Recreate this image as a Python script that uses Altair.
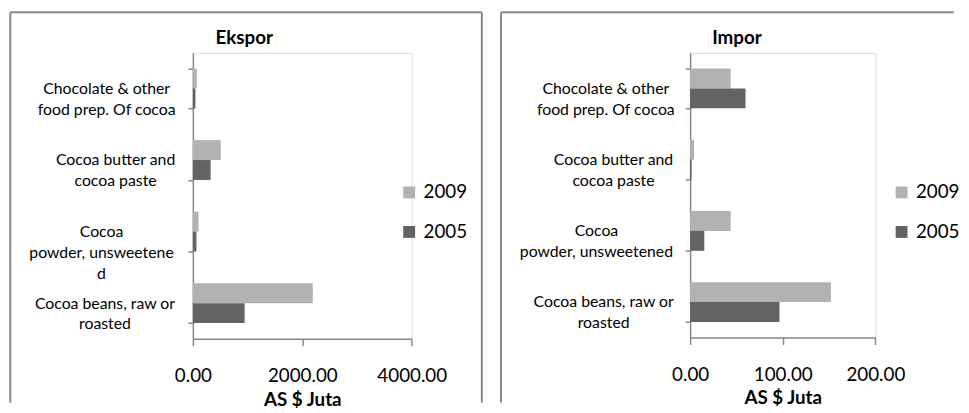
import altair as alt
import pandas as pd

years = ["2009", "2005"]
colors = ["#b2b2b2", "#636363"]

ekspor_labels = [
    "Chocolate & other|food prep. Of cocoa",
    "Cocoa butter and|cocoa paste",
    "Cocoa|powder, unsweetene|d",
    "Cocoa beans, raw or|roasted",
]
impor_labels = [
    "Chocolate & other|food prep. Of cocoa",
    "Cocoa butter and|cocoa paste",
    "Cocoa|powder, unsweetened",
    "Cocoa beans, raw or|roasted",
]
ekspor_2009 = [72, 511, 103, 2192]
ekspor_2005 = [47, 325, 66, 946]
impor_2009 = [43.8, 4.3, 43.8, 152]
impor_2005 = [59.8, 1.5, 15.3, 96.4]
ekspor_ticks = [0, 2000, 4000]
impor_ticks = [0, 100, 200]

FONT = "Lato"
GRAY = "#888888"


def make_df(labels, v09, v05):
    rows = []
    for lab, a, b in zip(labels, v09, v05):
        rows.append({"cat": lab, "year": "2009", "value": a})
        rows.append({"cat": lab, "year": "2005", "value": b})
    return pd.DataFrame(rows)


def panel(title, labels, v09, v05, ticks, width, height, title_x, legend_x,
          label_pads, left_x, right_x, top_end_x, top_y, bottom_y):
    df = make_df(labels, v09, v05)
    pad_cond = [
        {"test": "datum.value === '%s'" % lab, "value": p}
        for lab, p in zip(labels, label_pads)
    ]
    bars = alt.Chart(df).mark_bar().encode(
        x=alt.X(
            "value:Q",
            scale=alt.Scale(domain=[ticks[0], ticks[-1]], nice=False),
            axis=alt.Axis(values=ticks, format=".2f", title="AS $ Juta", grid=False,
                          domainColor=GRAY, domainWidth=1.5, tickColor=GRAY, tickWidth=1.5,
                          tickSize=7, labelFontSize=19, labelColor="#000", labelPadding=21,
                          labelFlush=False, labelFont=FONT, titleFont=FONT,
                          titleFontSize=19, titleFontWeight="bold", titleColor="#000",
                          titlePadding=5),
        ),
        y=alt.Y(
            "cat:N",
            sort=labels,
            scale=alt.Scale(paddingInner=0.443, paddingOuter=0.22),
            axis=alt.Axis(title=None, labelExpr="split(datum.label, '|')", grid=False,
                          domainColor=GRAY, domainWidth=1.5, tickColor=GRAY, tickWidth=1.5,
                          tickSize=5, tickBand="extent", labelFontSize=16,
                          labelLineHeight=21,
                          labelPadding={"condition": pad_cond, "value": 13},
                          labelColor="#000", labelFont=FONT, labelLimit=0,
                          labelAlign="center", labelBaseline="middle"),
        ),
        yOffset=alt.YOffset("year:N", sort=years,
                            scale=alt.Scale(paddingInner=0, paddingOuter=0)),
        color=alt.Color(
            "year:N",
            sort=years,
            scale=alt.Scale(domain=years, range=colors),
            legend=alt.Legend(title=None, orient="none", legendX=legend_x, legendY=131.7,
                              symbolType="square", symbolSize=144, symbolStrokeWidth=0,
                              labelFontSize=19, labelFont=FONT, labelColor="#000",
                              labelOffset=5, rowPadding=20, padding=0),
        ),
    )
    one = pd.DataFrame({"t": [title]})
    title_mark = alt.Chart(one).mark_text(
        font=FONT, fontSize=19, fontWeight="bold", color="#000",
        align="center", baseline="middle",
    ).encode(x=alt.value(title_x), y=alt.value(-15), text="t:N")
    rule_style = dict(color=GRAY, strokeWidth=2)
    left_rule = alt.Chart(one).mark_rule(**rule_style).encode(
        x=alt.value(left_x), y=alt.value(top_y), y2=alt.value(bottom_y))
    top_rule = alt.Chart(one).mark_rule(**rule_style).encode(
        x=alt.value(left_x), x2=alt.value(top_end_x), y=alt.value(top_y))
    layers = [title_mark, left_rule, top_rule]
    if right_x is not None:
        right_rule = alt.Chart(one).mark_rule(**rule_style).encode(
            x=alt.value(right_x), y=alt.value(top_y), y2=alt.value(bottom_y))
        layers.append(right_rule)
    return alt.layer(bars, *layers).properties(width=width, height=height)


left = panel("Ekspor", ekspor_labels, ekspor_2009, ekspor_2005, ekspor_ticks,
             221.4, 289.3, 52, 209.3, [82.7, 73.7, 87.9, 84.4],
             -184.7, 292.3, 292.3, -41, 354)
right = panel("Impor", impor_labels, impor_2009, impor_2005, impor_ticks,
              187.4, 288, 47.4, 204.4, [80.8, 73, 90.3, 83],
              -191.3, None, 266.7, -41, 354)

chart = alt.hconcat(left, right, spacing=16).resolve_scale(
    x="independent", y="independent", color="independent"
).resolve_legend(color="independent").properties(padding=0).configure_view(
    stroke=None
).configure(font=FONT)

chart.save("out.html", embed_options={"renderer": "svg", "actions": False})
